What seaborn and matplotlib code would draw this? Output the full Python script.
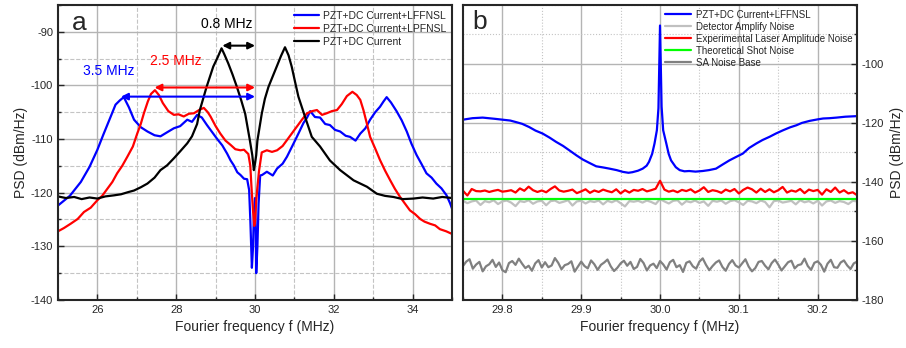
import numpy as np
import matplotlib.pyplot as plt
import seaborn as sns
from matplotlib.ticker import MultipleLocator, FormatStrFormatter

# ---- panel a data (MHz, dBm/Hz) ----
blue_a_f = [25.0, 25.3, 25.58, 25.8, 26.0, 26.15, 26.25, 26.35, 26.46, 26.57, 26.67, 26.8, 26.93, 27.1,
            27.27, 27.45, 27.6, 27.78, 27.94, 28.1, 28.28, 28.4, 28.53, 28.65, 28.78, 28.9, 29.04, 29.17,
            29.29, 29.38, 29.46, 29.55, 29.63, 29.72, 29.8, 29.85, 29.88, 29.92, 29.95, 29.97, 30.0,
            30.02, 30.03, 30.06, 30.09, 30.13, 30.18, 30.3, 30.45, 30.56, 30.7, 30.81, 30.98, 31.1,
            31.23, 31.32, 31.4, 31.52, 31.65, 31.78, 31.9, 32.03, 32.16, 32.3, 32.41, 32.55, 32.67,
            32.8, 32.92, 33.05, 33.17, 33.26, 33.34, 33.45, 33.59, 33.72, 33.85, 33.97, 34.1, 34.22,
            34.35, 34.48, 34.6, 34.73, 34.86, 34.95, 35.0]
blue_a_psd = [-122.4, -120.6, -118.0, -115.2, -112.0, -109.2, -107.4, -105.6, -103.6, -102.8, -102.2,
              -104.1, -106.4, -107.8, -108.6, -109.3, -109.5, -108.7, -108.0, -107.6, -106.4, -106.8,
              -105.5, -106.0, -107.4, -108.6, -110.0, -111.2, -112.7, -114.0, -114.9, -116.2, -116.7,
              -117.4, -117.5, -119.5, -125.0, -134.0, -130.0, -124.0, -121.0, -128.0, -135.0, -130.0,
              -122.0, -116.8, -116.7, -116.1, -116.8, -115.5, -114.6, -113.3, -110.8, -109.0, -107.0,
              -106.0, -104.8, -105.9, -106.0, -107.2, -107.4, -108.3, -108.6, -109.4, -109.6, -110.3,
              -109.0, -108.0, -106.4, -105.0, -104.0, -103.0, -102.2, -103.2, -104.8, -106.5, -108.6,
              -110.9, -113.0, -114.6, -116.4, -117.2, -118.3, -119.2, -120.5, -122.0, -123.0]

red_a_f = [25.0, 25.15, 25.32, 25.5, 25.66, 25.83, 26.0, 26.12, 26.25, 26.38, 26.5, 26.63, 26.76, 26.9,
           27.01, 27.1, 27.18, 27.28, 27.36, 27.46, 27.56, 27.66, 27.8, 27.94, 28.06, 28.19, 28.32,
           28.45, 28.58, 28.7, 28.8, 28.87, 29.0, 29.12, 29.25, 29.38, 29.5, 29.63, 29.72, 29.83,
           29.88, 29.91, 29.95, 29.98, 30.0, 30.03, 30.06, 30.1, 30.17, 30.3, 30.43, 30.56, 30.7,
           30.81, 30.95, 31.06, 31.2, 31.32, 31.45, 31.57, 31.7, 31.82, 31.95, 32.08, 32.2, 32.33,
           32.47, 32.58, 32.67, 32.75, 32.84, 32.92, 33.05, 33.17, 33.3, 33.43, 33.55, 33.68, 33.8,
           33.93, 34.06, 34.19, 34.3, 34.44, 34.57, 34.69, 34.85, 35.0]
red_a_psd = [-127.2, -126.6, -125.8, -124.9, -123.6, -122.8, -121.4, -120.6, -119.3, -118.0, -116.4,
             -115.0, -113.3, -111.4, -109.0, -107.2, -105.2, -103.0, -101.6, -100.9, -101.8, -103.3,
             -104.8, -105.5, -105.4, -105.8, -105.3, -105.2, -104.6, -104.2, -105.0, -105.8, -107.6,
             -109.0, -110.3, -111.1, -111.9, -112.1, -112.0, -112.8, -115.0, -119.0, -123.5, -126.2,
             -125.5, -121.5, -119.0, -116.0, -112.5, -112.1, -112.4, -112.1, -111.3, -110.2, -108.8,
             -107.7, -106.3, -105.2, -104.8, -104.6, -105.5, -105.2, -104.8, -104.6, -103.5, -102.0,
             -101.2, -101.8, -102.7, -104.6, -107.2, -109.6, -111.8, -113.9, -115.9, -117.7, -119.3,
             -120.8, -122.0, -123.3, -124.0, -124.9, -125.4, -125.8, -126.1, -126.8, -127.2, -127.7]

black_a_f = [25.0, 25.2, 25.41, 25.6, 25.8, 26.0, 26.2, 26.42, 26.6, 26.78, 26.93, 27.1, 27.27, 27.45,
             27.6, 27.77, 27.94, 28.1, 28.28, 28.4, 28.53, 28.6, 28.77, 28.94, 29.05, 29.15, 29.22,
             29.32, 29.43, 29.54, 29.65, 29.75, 29.87, 29.93, 29.97, 30.0, 30.03, 30.06, 30.17, 30.25,
             30.34, 30.45, 30.55, 30.66, 30.76, 30.85, 30.93, 31.02, 31.1, 31.27, 31.44, 31.65, 31.9,
             32.16, 32.5, 32.84, 33.09, 33.3, 33.51, 33.75, 34.02, 34.25, 34.52, 34.75, 35.0]
black_a_psd = [-120.7, -121.0, -120.8, -121.2, -120.9, -121.1, -120.7, -120.5, -120.3, -119.9, -119.6,
               -119.0, -118.3, -117.2, -115.8, -114.9, -113.6, -112.3, -110.8, -109.5, -107.2, -104.6,
               -100.3, -96.5, -94.8, -93.1, -94.2, -95.9, -98.0, -100.3, -102.8, -105.3, -110.3,
               -113.0, -115.8, -114.5, -113.0, -110.3, -105.3, -102.5, -100.3, -98.3, -96.5, -94.5,
               -92.9, -94.4, -96.5, -99.5, -102.1, -105.9, -109.6, -111.4, -114.0, -115.8, -117.7,
               -118.9, -120.2, -120.6, -120.8, -121.2, -121.1, -120.9, -121.1, -120.8, -121.0]

# ---- panel b data ----
blue_b_f = [29.75, 29.762, 29.775, 29.79, 29.8, 29.81, 29.817, 29.825, 29.834, 29.842, 29.851, 29.86,
            29.868, 29.877, 29.885, 29.894, 29.902, 29.91, 29.919, 29.928, 29.936, 29.945, 29.953,
            29.96, 29.965, 29.972, 29.978, 29.983, 29.986, 29.99, 29.993, 29.996, 29.998, 30.0,
            30.002, 30.004, 30.008, 30.011, 30.014, 30.02, 30.025, 30.031, 30.037, 30.045, 30.054,
            30.062, 30.071, 30.08, 30.088, 30.096, 30.105, 30.113, 30.122, 30.13, 30.139, 30.147,
            30.156, 30.165, 30.173, 30.18, 30.19, 30.2, 30.207, 30.215, 30.224, 30.235, 30.25]
blue_b_psd = [-118.9, -118.4, -118.2, -118.6, -118.9, -119.2, -119.7, -120.3, -121.4, -122.6, -123.6,
              -125.0, -126.4, -127.8, -129.3, -131.0, -132.4, -133.5, -134.7, -135.1, -135.5, -136.0,
              -136.6, -136.9, -136.7, -136.2, -135.5, -134.5, -133.2, -130.5, -127.0, -122.5, -115.0,
              -87.0, -114.5, -122.5, -127.0, -130.5, -132.7, -135.0, -136.0, -136.4, -136.3, -136.5,
              -136.3, -136.0, -135.5, -134.0, -132.7, -131.6, -130.4, -128.5, -127.0, -125.8, -124.7,
              -123.6, -122.5, -121.5, -120.8, -120.0, -119.3, -118.8, -118.5, -118.4, -118.2, -117.9,
              -117.7]

laser_noise = [-143.0, -144.6, -142.4, -143.1, -143.2, -142.9, -143.4, -143.0, -142.7, -143.3,
               -143.1, -142.8, -143.6, -142.2, -143.0, -141.6, -142.8, -143.4, -142.9, -143.5,
               -142.4, -141.5, -142.9, -143.3, -143.0, -142.6, -143.8, -143.2, -142.5, -143.7,
               -142.9, -143.4, -142.6, -143.1, -143.5, -142.5, -143.9, -142.8, -143.6, -142.7,
               -143.0, -142.4, -143.2, -142.8, -142.3, -139.6, -142.6, -143.3, -142.9, -143.5,
               -142.7, -143.1, -142.5, -143.6, -142.9, -141.8, -143.4, -142.8, -143.1, -143.7,
               -142.6, -143.2, -142.4, -143.9, -142.7, -141.9, -142.5, -143.6, -142.3, -143.4,
               -142.5, -143.5, -142.8, -141.7, -143.6, -142.9, -143.3, -142.4, -143.8, -142.6,
               -143.1, -142.7, -144.3, -142.5, -143.4, -141.9, -143.6, -142.8, -143.9, -143.5, -144.5]

detector_noise = [-146.4, -147.2, -146.6, -146.3, -147.8, -146.5, -146.9, -146.2, -147.5, -146.6,
                  -146.3, -147.0, -148.2, -146.5, -146.8, -146.2, -147.4, -146.6, -146.4, -147.9,
                  -146.5, -146.3, -147.1, -146.7, -146.2, -148.0, -146.6, -146.4, -147.3, -146.5,
                  -146.8, -146.3, -147.6, -146.4, -146.9, -146.2, -147.2, -148.3, -146.5, -146.7,
                  -146.4, -147.0, -146.3, -146.8, -147.5, -145.8, -146.6, -147.3, -146.4, -146.2,
                  -147.7, -146.5, -146.9, -146.3, -147.1, -146.6, -148.1, -146.4, -146.7, -146.3,
                  -147.4, -146.5, -146.2, -146.9, -147.8, -146.4, -146.6, -147.2, -146.3, -146.8,
                  -148.6, -146.5, -146.3, -147.0, -146.7, -146.4, -147.6, -146.2, -146.9, -146.5,
                  -147.3, -146.4, -148.0, -146.6, -146.3, -147.1, -146.5, -146.8, -147.5, -146.4, -146.6]

shot_noise = [-145.9, -145.9]

sa_base = [-168.5, -167.0, -166.2, -169.4, -168.0, -167.1, -170.3, -168.6, -167.9, -166.4,
           -168.8, -167.3, -169.9, -170.6, -167.5, -166.8, -168.1, -166.0, -167.7, -169.2,
           -168.4, -170.1, -167.6, -166.5, -169.0, -167.2, -168.9, -168.3, -165.8, -167.4,
           -169.6, -168.2, -167.8, -166.9, -170.4, -168.7, -167.0, -168.5, -169.3, -166.6,
           -167.9, -169.8, -168.1, -167.3, -166.3, -168.6, -170.2, -169.1, -167.6, -166.7,
           -168.4, -167.1, -169.5, -168.8, -166.1, -167.5, -170.0, -168.3, -167.7, -169.2,
           -166.8, -168.0, -169.7, -167.2, -166.4, -168.9, -168.2, -170.5, -167.4, -166.9,
           -168.6, -169.4, -167.0, -165.9, -168.1, -169.9, -168.5, -167.3, -166.6, -168.8,
           -170.1, -167.8, -166.5, -168.3, -169.0, -167.6, -166.2, -168.7, -170.3, -169.2,
           -167.1, -166.8, -168.4, -169.6, -167.5, -166.3, -168.0, -170.0, -168.6, -167.2,
           -166.7, -169.3, -168.2, -167.9, -166.0, -168.5, -169.8, -167.4, -166.9, -168.1,
           -170.4, -167.7, -166.4, -168.9, -169.1, -167.3, -166.6, -168.3, -169.5, -167.6, -167.0]

sns.set_style('ticks')
plt.rcParams['font.family'] = ['Liberation Sans', 'DejaVu Sans']
plt.rcParams['axes.linewidth'] = 1.5
plt.rcParams['axes.unicode_minus'] = False

fig = plt.figure(figsize=(9.06, 3.48), dpi=100)
ax1 = fig.add_axes([0.064, 0.138, 0.435, 0.848])
ax2 = fig.add_axes([0.511, 0.138, 0.435, 0.848])

# ---- panel a ----
lw = 1.6
sns.lineplot(x=blue_a_f, y=blue_a_psd, ax=ax1, color='#0000ff', lw=lw, estimator=None,
             label='PZT+DC Current+LFFNSL')
sns.lineplot(x=red_a_f, y=red_a_psd, ax=ax1, color='#ff0000', lw=lw, estimator=None,
             label='PZT+DC Current+LPFNSL')
sns.lineplot(x=black_a_f, y=black_a_psd, ax=ax1, color='black', lw=lw, estimator=None,
             label='PZT+DC Current')

ax1.set_xlim(25, 35)
ax1.set_ylim(-140, -85)
ax1.xaxis.set_major_locator(MultipleLocator(2))
ax1.xaxis.set_minor_locator(MultipleLocator(1))
ax1.yaxis.set_major_locator(MultipleLocator(10))
ax1.yaxis.set_minor_locator(MultipleLocator(5))
ax1.grid(which='major', color='#b4b4b4', lw=1.0, ls='-')
ax1.grid(which='minor', color='#c4c4c4', lw=0.8, ls='--')
ax1.set_axisbelow(True)
ax1.tick_params(which='both', direction='in', labelsize=8, width=1)
ax1.tick_params(which='major', length=4)
ax1.tick_params(which='minor', length=2.5)
ax1.set_xlabel('Fourier frequency f (MHz)', fontsize=10)
ax1.set_ylabel('PSD (dBm/Hz)', fontsize=10, labelpad=2)
ax1.legend(loc='upper right', frameon=False, fontsize=7.5, handlelength=2.4,
           borderaxespad=0.15, labelspacing=0.3, handletextpad=0.4)
ax1.text(0.035, 0.915, 'a', transform=ax1.transAxes, fontsize=19, va='baseline')

arrow_kw = dict(arrowstyle='<|-|>', lw=1.5, mutation_scale=10, shrinkA=0, shrinkB=0)
ax1.annotate('', xy=(29.17, -92.6), xytext=(30.0, -92.6), arrowprops=dict(color='black', **arrow_kw))
ax1.annotate('', xy=(27.45, -100.4), xytext=(30.0, -100.4), arrowprops=dict(color='#ff0000', **arrow_kw))
ax1.annotate('', xy=(26.6, -102.1), xytext=(30.0, -102.1), arrowprops=dict(color='#0000ff', **arrow_kw))
ax1.text(29.29, -89.4, '0.8 MHz', color='black', fontsize=10, ha='center', va='baseline')
ax1.text(28.0, -96.2, '2.5 MHz', color='#ff0000', fontsize=10, ha='center', va='baseline')
ax1.text(26.29, -98.1, '3.5 MHz', color='#0000ff', fontsize=10, ha='center', va='baseline')

# ---- panel b ----
f_laser = np.linspace(29.75, 30.25, len(laser_noise))
f_det = np.linspace(29.75, 30.25, len(detector_noise))
f_sa = np.linspace(29.75, 30.25, len(sa_base))
f_shot = [29.75, 30.25]

sns.lineplot(x=blue_b_f, y=blue_b_psd, ax=ax2, color='#0000ff', lw=lw, estimator=None,
             label='PZT+DC Current+LFFNSL')
sns.lineplot(x=f_det, y=detector_noise, ax=ax2, color='#c0c0c0', lw=lw, estimator=None,
             label='Detector Amplify Noise')
sns.lineplot(x=f_laser, y=laser_noise, ax=ax2, color='#ff0000', lw=lw, estimator=None,
             label='Experimental Laser Amplitude Noise')
sns.lineplot(x=f_shot, y=shot_noise, ax=ax2, color='#00ff00', lw=lw, estimator=None,
             label='Theoretical Shot Noise')
sns.lineplot(x=f_sa, y=sa_base, ax=ax2, color='#808080', lw=lw, estimator=None,
             label='SA Noise Base')

ax2.set_xlim(29.75, 30.25)
ax2.set_ylim(-180, -80)
ax2.set_xticks([29.8, 29.9, 30.0, 30.1, 30.2])
ax2.xaxis.set_minor_locator(MultipleLocator(0.05))
ax2.xaxis.set_major_formatter(FormatStrFormatter('%.1f'))
ax2.set_yticks([-180, -160, -140, -120, -100])
ax2.yaxis.set_minor_locator(MultipleLocator(10))
ax2.yaxis.tick_right()
ax2.yaxis.set_label_position('right')
ax2.grid(which='major', color='#b4b4b4', lw=1.0, ls='-')
ax2.grid(which='minor', color='#c4c4c4', lw=0.8, ls=':')
ax2.set_axisbelow(True)
ax2.tick_params(which='both', direction='in', labelsize=8, width=1)
ax2.tick_params(which='major', length=4)
ax2.tick_params(which='minor', length=2.5)
ax2.set_xlabel('Fourier frequency f (MHz)', fontsize=10)
ax2.set_ylabel('PSD (dBm/Hz)', fontsize=10, labelpad=4)
ax2.legend(loc='upper right', frameon=False, fontsize=7, handlelength=2.6,
           borderaxespad=0.1, labelspacing=0.2, handletextpad=0.5)
ax2.text(0.023, 0.919, 'b', transform=ax2.transAxes, fontsize=19, va='baseline')

fig.savefig('out.png', dpi=100)
